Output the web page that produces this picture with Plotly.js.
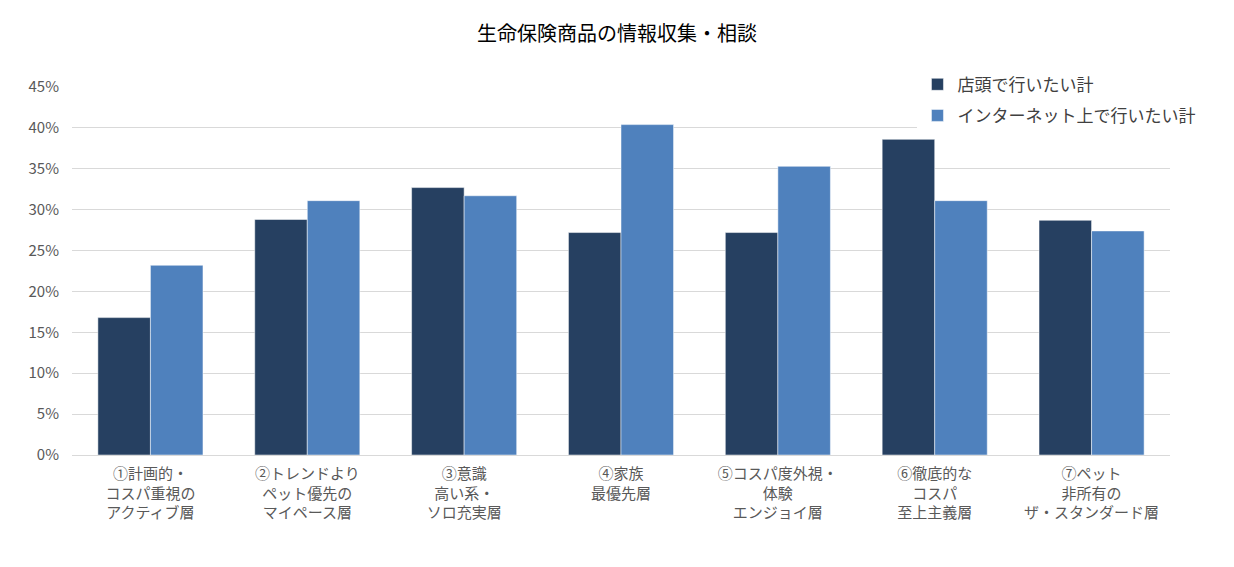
<!DOCTYPE html>
<html>
<head>
<meta charset="utf-8">
<script src="https://cdn.plot.ly/plotly-3.0.1.min.js"></script>
<style>
  html, body { margin: 0; padding: 0; background: #fff; }
  #chart { width: 1234px; height: 567px; }
</style>
</head>
<body>
<div id="chart"></div>
<script>
// segment labels (3 lines each)
var categories = [
    '①計画的・<br>コスパ重視の<br>アクティブ層',
    '②トレンドより<br>ペット優先の<br>マイペース層',
    '③意識<br>高い系・<br>ソロ充実層',
    '④家族<br>最優先層',
    '⑤コスパ度外視・<br>体験<br>エンジョイ層',
    '⑥徹底的な<br>コスパ<br>至上主義層',
    '⑦ペット<br>非所有の<br>ザ・スタンダード層'
];

var seriesNames = ['店頭で行いたい計', 'インターネット上で行いたい計'];

// percent values
var storeValues = [16.8, 28.8, 32.7, 27.2, 27.2, 38.6, 28.7];
var onlineValues = [23.2, 31.1, 31.7, 40.4, 35.3, 31.1, 27.4];

var yTicks = [0, 5, 10, 15, 20, 25, 30, 35, 40, 45];
var yTickLabels = ['0%', '5%', '10%', '15%', '20%', '25%', '30%', '35%', '40%', '45%'];

var font = '"Noto Sans CJK JP", "Noto Sans", sans-serif';

var data = [
    {
        type: 'bar',
        name: seriesNames[0],
        legendgroup: 'store',
        x: categories,
        y: storeValues,
        marker: {color: '#264061', line: {color: '#ffffff', width: 0.5}},
        hovertemplate: '%{y}%<extra></extra>'
    },
    {
        type: 'bar',
        name: seriesNames[1],
        legendgroup: 'online',
        x: categories,
        y: onlineValues,
        marker: {color: '#4f81bd', line: {color: '#ffffff', width: 0.5}},
        hovertemplate: '%{y}%<extra></extra>'
    }
];

var layout = {
    width: 1234,
    height: 567,
    margin: {l: 72, r: 64, t: 87, b: 112},
    paper_bgcolor: '#ffffff',
    plot_bgcolor: '#ffffff',
    font: {family: font, color: '#595959', size: 15},
    title: {
        text: '生命保険商品の情報収集・相談',
        font: {family: font, size: 20, color: '#000000'},
        x: 0.5, xanchor: 'center',
        y: 0.94, yanchor: 'middle'
    },
    barmode: 'group',
    bargap: 0.33,
    bargroupgap: 0,
    showlegend: true,
    legend: {
        x: 0.77, xanchor: 'left',
        y: 1.055, yanchor: 'top',
        bgcolor: '#ffffff',
        font: {family: font, size: 17, color: '#404040'},
        tracegroupgap: 6,
        itemwidth: 30
    },
    xaxis: {
        type: 'category',
        tickfont: {family: font, size: 15, color: '#595959'},
        showline: true,
        linecolor: '#d9d9d9',
        linewidth: 1,
        ticks: '',
        ticklabelstandoff: 5,
        showgrid: false,
        fixedrange: true
    },
    yaxis: {
        range: [0, 45],
        tickmode: 'array',
        tickvals: yTicks,
        ticktext: yTickLabels,
        tickfont: {family: font, size: 15, color: '#595959'},
        showgrid: true,
        gridcolor: '#d9d9d9',
        gridwidth: 1,
        zeroline: false,
        ticks: '',
        ticklabelstandoff: 12,
        fixedrange: true
    }
};

Plotly.newPlot('chart', data, layout, {displayModeBar: false, staticPlot: true});
</script>
</body>
</html>
